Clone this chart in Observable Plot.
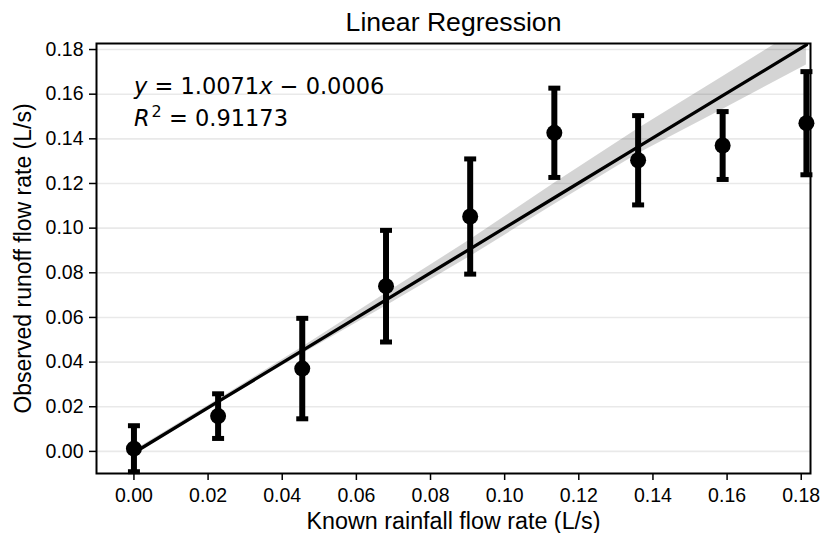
<!DOCTYPE html>
<html>
<head>
<meta charset="utf-8">
<script src="https://cdn.jsdelivr.net/npm/d3@7"></script>
<script src="https://cdn.jsdelivr.net/npm/@observablehq/plot@0.6"></script>
<style>
  html, body { margin: 0; padding: 0; background: #fff; }
  #chart { width: 821px; height: 533px; }
</style>
</head>
<body>
<div id="chart"></div>
<script>
// ---- data ----
const knownFlow = [0, 0.0227, 0.0454, 0.068, 0.0907, 0.1134, 0.136, 0.1588, 0.1814];
const observedFlow = [0.0012, 0.0158, 0.0371, 0.0740, 0.1052, 0.1427, 0.1304, 0.1370, 0.1470];
const observedErr = [0.0103, 0.0100, 0.0225, 0.0250, 0.0258, 0.0200, 0.0200, 0.0152, 0.0231];
// confidence band offsets (below / above the fitted line) at each known flow
const bandBelow = [0.001, 0.001, 0.0015, 0.0028, 0.0035, 0.003, 0.003, 0.0062, 0.009];
const bandAbove = [0.001, 0.001, 0.0015, 0.003, 0.004, 0.0065, 0.0082, 0.0085, 0.009];
const slope = 1.0071;
const intercept = -0.0006;
const rSquared = 0.91173;
const xTicks = [0, 0.02, 0.04, 0.06, 0.08, 0.10, 0.12, 0.14, 0.16, 0.18];
const yTicks = [0, 0.02, 0.04, 0.06, 0.08, 0.10, 0.12, 0.14, 0.16, 0.18];
const titleText = "Linear Regression";
const xLabel = "Known rainfall flow rate (L/s)";
const yLabel = "Observed runoff flow rate (L/s)";

// ---- derived tables ----
const points = knownFlow.map((x, i) => ({
  x, y: observedFlow[i], lo: observedFlow[i] - observedErr[i], hi: observedFlow[i] + observedErr[i]
}));
const fit = knownFlow.map((x, i) => {
  const y = slope * x + intercept;
  return {x, y, y1: y - bandBelow[i], y2: y + bandAbove[i]};
});

const capSymbol = {
  draw(context, size) {
    const w = Math.sqrt(size / Math.PI);
    context.moveTo(-w, 0);
    context.lineTo(w, 0);
  }
};

const fmt = d3.format(".2f");

const plot = Plot.plot({
  width: 821,
  height: 533,
  marginLeft: 96,
  marginRight: 11,
  marginTop: 43,
  marginBottom: 60,
  style: {fontFamily: "Liberation Sans, Arial, sans-serif", fontSize: "19.5px", background: "#fff", color: "#000", overflow: "visible"},
  x: {domain: [-0.0101, 0.1825]},
  y: {domain: [-0.0099, 0.1827]},
  marks: [
    Plot.gridY(yTicks, {stroke: "#e9e9e9", strokeOpacity: 1, strokeWidth: 1.6}),
    Plot.areaY(fit, {x: "x", y1: "y1", y2: "y2", fill: "#000", fillOpacity: 0.17, clip: true}),
    Plot.line(fit, {x: "x", y: "y", stroke: "#000", strokeWidth: 3.3, clip: true}),
    Plot.ruleX(points, {x: "x", y1: "lo", y2: "hi", stroke: "#000", strokeWidth: 6}),
    Plot.dot(points, {x: "x", y: "hi", symbol: capSymbol, r: 6, stroke: "#000", strokeWidth: 5, strokeLinecap: "butt"}),
    Plot.dot(points, {x: "x", y: "lo", symbol: capSymbol, r: 6, stroke: "#000", strokeWidth: 5, strokeLinecap: "butt"}),
    Plot.dot(points, {x: "x", y: "y", r: 8, fill: "#000", stroke: "none"}),
    Plot.frame({stroke: "#000", strokeWidth: 2}),
    Plot.axisX(xTicks, {tickFormat: fmt, tickSize: 7, tickPadding: 8, fontSize: 19.5, label: null, stroke: "#000", strokeWidth: 1.5}),
    Plot.axisY(yTicks, {tickFormat: fmt, tickSize: 7, tickPadding: 6, fontSize: 19.5, label: null, stroke: "#000", strokeWidth: 1.5}),
    Plot.text([titleText], {frameAnchor: "top", text: d => d, lineAnchor: "middle", dy: -21, fontSize: 26.6, fill: "#000"}),
    Plot.text([xLabel], {frameAnchor: "bottom", text: d => d, lineAnchor: "bottom", dy: 55, fontSize: 23.3, fill: "#000"}),
    Plot.text([yLabel], {frameAnchor: "left", text: d => d, rotate: -90, textAnchor: "middle", lineAnchor: "middle", dx: -73, fontSize: 23, fill: "#000"}),
    Plot.text([{x: 0, y: 0.16}], {x: "x", y: "y", text: d => `y = ${slope.toFixed(4)}x − ${Math.abs(intercept).toFixed(4)}`, textAnchor: "start", lineAnchor: "bottom", fontSize: 22.5, fontFamily: "DejaVu Sans", fill: "#000"}),
    Plot.text([{x: 0, y: 0.16}], {x: "x", y: "y", text: d => `R2 = ${rSquared}`, textAnchor: "start", lineAnchor: "bottom", dy: 32, fontSize: 22.5, fontFamily: "DejaVu Sans", fill: "#000"})
  ]
});

document.getElementById("chart").appendChild(plot);

const svg = d3.select(plot);
// make sure tick labels use the intended size
svg.selectAll("text").each(function() {
  const t = this.textContent;
  if (/^0\.\d\d$/.test(t)) d3.select(this).style("font-size", "19.5px");
});

// mathtext-style italics and superscript for the annotation
svg.selectAll("text").each(function() {
  const el = d3.select(this);
  const s = el.text();
  if (s.startsWith("y = ")) {
    el.text(null);
    el.append("tspan").attr("font-style", "italic").text("y");
    el.append("tspan").text(` = ${slope.toFixed(4)}`);
    el.append("tspan").attr("font-style", "italic").text("x");
    el.append("tspan").text(` − ${Math.abs(intercept).toFixed(4)}`);
  } else if (s.startsWith("R2 = ")) {
    el.text(null);
    el.append("tspan").attr("font-style", "italic").text("R");
    el.append("tspan").attr("font-size", "16px").attr("dy", "-9").attr("dx", "2").text("2");
    el.append("tspan").attr("dy", "9").text(` = ${rSquared}`);
  }
});
</script>
</body>
</html>
